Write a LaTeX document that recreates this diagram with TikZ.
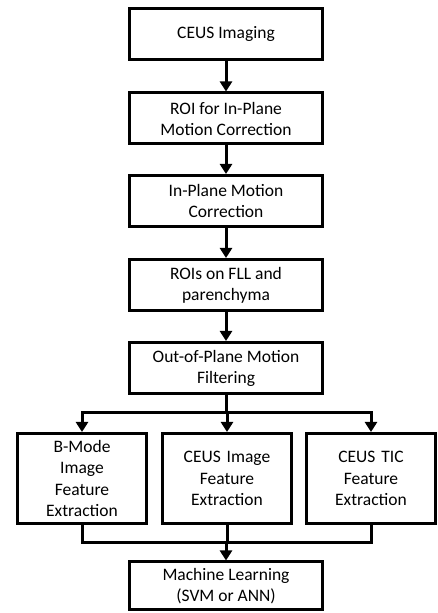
\documentclass[tikz,border=0pt]{standalone}
\usepackage{fontspec}
\setmainfont{Carlito}
\usetikzlibrary{arrows.meta,positioning,calc}

\begin{document}
\begin{tikzpicture}[
		box/.style={draw=black, line width=3pt, align=center, inner sep=0pt, minimum width=193pt, minimum height=51pt, font=\fontsize{17.5}{21}\selectfont},
		subbox/.style={box, minimum width=129pt, minimum height=90pt, text width=124pt, font=\fontsize{17.5}{21.5}\selectfont},
		arr/.style={line width=3pt, -{Triangle[length=10pt,width=12pt]}},
		link/.style={line width=3pt}]
				\useasboundingbox (0,0) rectangle (438pt,613pt);
				% main column
				\node[box] (ceus) at (226pt,579pt) {CEUS Imaging};
				\node[box] (roi) at (226pt,494.5pt) {ROI for In-Plane\\Motion Correction};
				\node[box] (inplane) at (226pt,412pt) {In-Plane Motion\\Correction};
				\node[box] (rois) at (226pt,328pt) {ROIs on FLL and\\parenchyma};
				\node[box] (outplane) at (226pt,245pt) {Out-of-Plane Motion\\Filtering};
				% feature extraction
				\node[subbox] (bmode) at (82pt,134.5pt) {B-Mode\\Image\\Feature\\Extraction};
				\node[subbox] (ceusimg) at (227pt,134.5pt) {CEUS Image\\Feature\\Extraction};
				\node[subbox] (ceustic) at (371pt,134.5pt) {CEUS TIC\\Feature\\Extraction};
				\node[box, minimum height=48pt] (ml) at (226pt,27pt) {Machine Learning\\(SVM or ANN)};
				\coordinate (split) at (226pt,200pt);
				\coordinate (join) at (226pt,70pt);
				\draw[arr] (ceus) -- (roi);
				\draw[arr] (roi) -- (inplane);
				\draw[arr] (inplane) -- (rois);
				\draw[arr] (rois) -- (outplane);
				\draw[link] (outplane) -- (split);
				\draw[arr] (split) -| (bmode);
				\draw[arr] (split) -| (ceustic);
				\draw[arr] (split) -- (split -| ceusimg) -- (ceusimg);
				\draw[link] (bmode) |- (join);
				\draw[link] (ceustic) |- (join);
				\draw[link] (ceusimg) -- (ceusimg |- join);
				\draw[arr] (join) -- (ml);
	\end{tikzpicture}
\end{document}
